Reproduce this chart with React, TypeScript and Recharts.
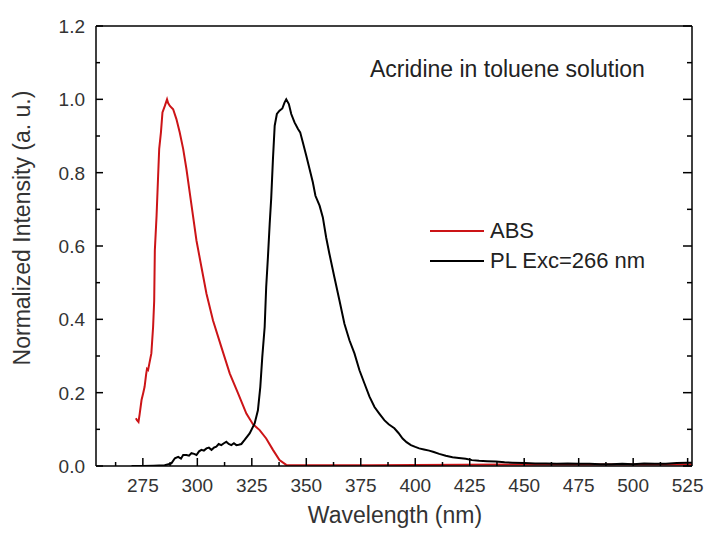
import { LineChart, Line, XAxis, YAxis, Label } from "recharts";

// wavelength (nm) / normalized intensity
const ABS_NM = [
  271.8, 272.3, 273.0, 273.5, 274.4, 275.2, 275.8, 276.5, 276.9, 277.4, 278.0, 278.9, 279.7,
  280.2, 280.5, 281.3, 282.0, 282.5, 283.3, 284.0, 285.1, 286.1, 286.6, 287.4, 288.9, 290.4,
  291.9, 293.5, 295.0, 296.5, 298.0, 299.6, 301.9, 304.2, 307.2, 311.0, 314.9, 318.7, 322.5,
  325.5, 328.6, 331.6, 334.7, 337.7, 340.8, 360, 380, 400, 450, 500, 527,
];
const ABS_VAL = [
  0.13, 0.125, 0.12, 0.14, 0.18, 0.2, 0.216, 0.25, 0.265, 0.262, 0.28, 0.307, 0.379,
  0.45, 0.588, 0.683, 0.79, 0.865, 0.91, 0.964, 0.982, 1.0, 0.99, 0.982, 0.973, 0.946,
  0.91, 0.865, 0.81, 0.746, 0.683, 0.615, 0.542, 0.47, 0.397, 0.325, 0.252, 0.198, 0.143,
  0.114, 0.098, 0.075, 0.044, 0.016, 0.003, 0.002, 0.002, 0.003, 0.004, 0.004, 0.004,
];

const PL_NM = [
  269.8, 275, 280, 285, 288.1, 289.7, 291.2, 292.5, 293.5, 295.0, 296.2, 297.3, 298.5, 299.6,
  300.8, 301.9, 303.0, 304.2, 305.3, 306.5, 307.6, 308.7, 309.8, 311.0, 312.2, 313.3, 314.4,
  315.6, 316.8, 317.9, 319.0, 320.2, 321.7, 324.0, 326.3, 327.8, 328.9, 329.8, 330.9, 331.6,
  332.4, 333.2, 333.9, 334.7, 335.5, 336.5, 337.7, 339.0, 340.0, 340.8, 342.0, 343.1, 344.6,
  346.2, 347.2, 348.4, 350.0, 351.5, 353.0, 354.2, 356.1, 357.6, 359.1, 360.6, 362.9, 365.2,
  367.5, 369.8, 372.1, 374.4, 376.7, 379.0, 381.3, 383.5, 385.8, 387.8, 390.4, 392.3, 394.2,
  396, 398.0, 400, 401.8, 404, 406.4, 408.5, 411.0, 414, 417.1, 420, 423.2, 426, 429.3, 433,
  437.0, 441, 444.6, 450, 455, 460, 465, 470, 475, 480, 485, 490, 495, 500, 505, 510, 515,
  520, 525, 527,
];
const PL_VAL = [
  0, 0, 0.001, 0.002, 0.007, 0.021, 0.025, 0.02, 0.03, 0.03, 0.028, 0.035, 0.033, 0.03,
  0.04, 0.044, 0.042, 0.048, 0.05, 0.044, 0.05, 0.053, 0.06, 0.057, 0.062, 0.066, 0.06,
  0.057, 0.062, 0.057, 0.058, 0.06, 0.071, 0.089, 0.116, 0.152, 0.216, 0.297, 0.379, 0.488,
  0.57, 0.66, 0.73, 0.837, 0.928, 0.96, 0.969, 0.975, 0.991, 1.0, 0.987, 0.96, 0.937,
  0.919, 0.91, 0.883, 0.846, 0.81, 0.774, 0.737, 0.71, 0.678, 0.624, 0.579, 0.515, 0.452,
  0.388, 0.343, 0.307, 0.261, 0.225, 0.189, 0.161, 0.143, 0.125, 0.114, 0.103, 0.09, 0.075,
  0.065, 0.057, 0.052, 0.048, 0.045, 0.042, 0.038, 0.033, 0.028, 0.024, 0.022, 0.02, 0.016,
  0.014, 0.013, 0.012, 0.01, 0.009, 0.008, 0.007, 0.007, 0.006, 0.007, 0.006, 0.006, 0.005,
  0.005, 0.006, 0.005, 0.007, 0.006, 0.006, 0.008, 0.009, 0.009,
];

const X_TICKS = [
  262.5, 275, 287.5, 300, 312.5, 325, 337.5, 350, 362.5, 375, 387.5, 400, 412.5, 425, 437.5,
  450, 462.5, 475, 487.5, 500, 512.5, 525,
];
const Y_TICKS = [0, 0.1, 0.2, 0.3, 0.4, 0.5, 0.6, 0.7, 0.8, 0.9, 1.0, 1.1, 1.2];

const SERIES = [
  { name: "ABS", color: "#cc1417" },
  { name: "PL Exc=266 nm", color: "#000" },
];

const absData = ABS_NM.map((x, i) => ({ x, y: ABS_VAL[i] }));
const plData = PL_NM.map((x, i) => ({ x, y: PL_VAL[i] }));

const FONT = "'Liberation Sans', Arial, sans-serif";
const TEXT = "#333";

const isMajorX = (v: number) => v % 25 === 0;
const isMajorY = (v: number) => Math.round(v * 10) % 2 === 0;

const BottomTick = ({ x, y, payload }: any) => {
  const major = isMajorX(payload.value);
  return (
    <g>
      <line x1={x} x2={x} y1={y} y2={y - (major ? 8 : 4)} stroke="#000" strokeWidth={1.5} />
      {major && (
        <text x={x} y={y + 26} textAnchor="middle" fontSize={19} fontFamily={FONT} fill={TEXT}>
          {payload.value}
        </text>
      )}
    </g>
  );
};

const TopTick = ({ x, y, payload }: any) => (
  <line x1={x} x2={x} y1={y} y2={y + (isMajorX(payload.value) ? 8 : 4)} stroke="#000" strokeWidth={1.5} />
);

const LeftTick = ({ x, y, payload }: any) => {
  const major = isMajorY(payload.value);
  return (
    <g>
      <line x1={x} x2={x + (major ? 7 : 4)} y1={y} y2={y} stroke="#000" strokeWidth={1.5} />
      {major && (
        <text x={x - 11} y={y + 7} textAnchor="end" fontSize={19} fontFamily={FONT} fill={TEXT}>
          {payload.value.toFixed(1)}
        </text>
      )}
    </g>
  );
};

const RightTick = ({ x, y, payload }: any) => (
  <line x1={x} x2={x - (isMajorY(payload.value) ? 9 : 5)} y1={y} y2={y} stroke="#000" strokeWidth={1.5} />
);

export default function App() {
  return (
    <div style={{ position: "absolute", left: 0, top: 0, width: 707, height: 534, background: "#fff" }}>
      <LineChart width={707} height={534} margin={{ top: 25, right: 14, bottom: 0, left: 0 }}>
        <XAxis
          xAxisId="b"
          type="number"
          dataKey="x"
          domain={[253.5, 527]}
          allowDataOverflow
          ticks={X_TICKS}
          interval={0}
          height={68}
          tickSize={0}
          tickMargin={0}
          tickLine={false}
          axisLine={{ stroke: "#000", strokeWidth: 1.5 }}
          tick={BottomTick}
        >
          <Label
            content={() => (
              <text x={395} y={523} textAnchor="middle" fontSize={23} fontFamily={FONT} fill={TEXT}>
                Wavelength (nm)
              </text>
            )}
          />
        </XAxis>
        <XAxis
          xAxisId="t"
          orientation="top"
          type="number"
          domain={[253.5, 527]}
          allowDataOverflow
          ticks={X_TICKS}
          interval={0}
          height={1}
          tickSize={0}
          tickMargin={0}
          tickLine={false}
          axisLine={{ stroke: "#000", strokeWidth: 1.5 }}
          tick={TopTick}
        />
        <YAxis
          yAxisId="l"
          type="number"
          domain={[0, 1.2]}
          allowDataOverflow
          ticks={Y_TICKS}
          interval={0}
          width={96}
          tickSize={0}
          tickMargin={0}
          tickLine={false}
          axisLine={{ stroke: "#000", strokeWidth: 1.5 }}
          tick={LeftTick}
        >
          <Label
            content={() => (
              <text
                x={30}
                y={228}
                transform="rotate(-90, 30, 228)"
                textAnchor="middle"
                fontSize={23}
                fontFamily={FONT}
                fill={TEXT}
              >
                Normalized Intensity (a. u.)
              </text>
            )}
          />
        </YAxis>
        <YAxis
          yAxisId="r"
          orientation="right"
          type="number"
          domain={[0, 1.2]}
          allowDataOverflow
          ticks={Y_TICKS}
          interval={0}
          width={1}
          tickSize={0}
          tickMargin={0}
          tickLine={false}
          axisLine={{ stroke: "#000", strokeWidth: 1.5 }}
          tick={RightTick}
        />
        <Line
          xAxisId="b"
          yAxisId="l"
          data={absData}
          dataKey="y"
          name={SERIES[0].name}
          type="linear"
          stroke={SERIES[0].color}
          strokeWidth={2}
          dot={false}
          isAnimationActive={false}
        />
        <Line
          xAxisId="b"
          yAxisId="l"
          data={plData}
          dataKey="y"
          name={SERIES[1].name}
          type="linear"
          stroke={SERIES[1].color}
          strokeWidth={2}
          dot={false}
          isAnimationActive={false}
        />
      </LineChart>
      <div
        style={{
          position: "absolute",
          left: 370,
          top: 56,
          fontFamily: FONT,
          fontSize: 23,
          color: "#222",
          whiteSpace: "nowrap",
        }}
      >
        Acridine in toluene solution
      </div>
      <div
        style={{
          position: "absolute",
          left: 430,
          top: 216,
          fontFamily: FONT,
          color: "#222",
          fontSize: 22,
          lineHeight: "30px",
          whiteSpace: "nowrap",
        }}
      >
        {SERIES.map((s) => (
          <div key={s.name} style={{ display: "flex", alignItems: "center" }}>
            <span style={{ width: 54, height: 2, background: s.color, marginRight: 6 }} />
            <span>{s.name}</span>
          </div>
        ))}
      </div>
    </div>
  );
}
